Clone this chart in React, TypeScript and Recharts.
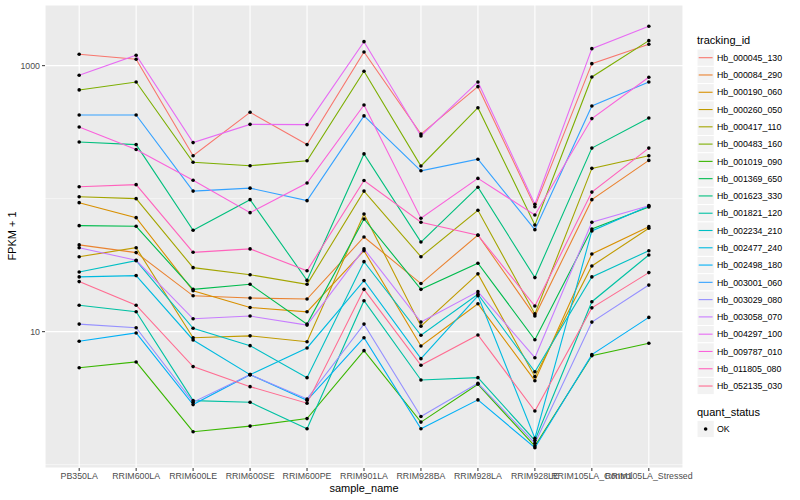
import { LineChart, Line, XAxis, YAxis, CartesianGrid, ReferenceLine } from 'recharts'

const samples = [
  'PB350LA', 'RRIM600LA', 'RRIM600LE', 'RRIM600SE', 'RRIM600PE', 'RRIM901LA',
  'RRIM928BA', 'RRIM928LA', 'RRIM928LE', 'RRIM105LA_Control', 'RRIM105LA_Stressed',
]

const trackingIds = [
  'Hb_000045_130', 'Hb_000084_290', 'Hb_000190_060', 'Hb_000260_050', 'Hb_000417_110',
  'Hb_000483_160', 'Hb_001019_090', 'Hb_001369_650', 'Hb_001623_330', 'Hb_001821_120',
  'Hb_002234_210', 'Hb_002477_240', 'Hb_002498_180', 'Hb_003001_060', 'Hb_003029_080',
  'Hb_003058_070', 'Hb_004297_100', 'Hb_009787_010', 'Hb_011805_080', 'Hb_052135_030',
]

// ggplot default hue palette, 20 levels
const colors = [
  '#F8766D', '#EA8331', '#D89000', '#C09B00', '#A3A500', '#7CAE00', '#39B600', '#00BB4E',
  '#00BF7D', '#00C1A3', '#00BFC4', '#00BAE0', '#00B0F6', '#35A2FF', '#9590FF', '#C77CFF',
  '#E76BF3', '#FA62DB', '#FF62BC', '#FF6C91',
]

// FPKM + 1, one value per sample
const hb000045_130 = [1218, 1117, 210, 446, 255, 1268, 306, 695, 87, 1035, 1448]
const hb000084_290 = [44.9, 39.3, 18.6, 17.9, 17.6, 51.5, 23.0, 53.3, 13.1, 98.3, 194]
const hb000190_060 = [93.3, 72.0, 20.3, 15.2, 14.1, 40.6, 7.8, 16.2, 4.28, 38.4, 61.6]
const hb000260_050 = [36.6, 42.8, 9.0, 9.3, 8.4, 76.7, 11.0, 27.2, 4.59, 31.2, 59.9]
const hb000417_110 = [103.5, 100, 30.3, 26.8, 22.7, 114, 36.6, 81.8, 13.6, 169, 210]
const hb000483_160 = [657, 754, 188, 177, 193, 908, 176, 483, 63.4, 822, 1542]
const hb001019_090 = [5.36, 5.92, 1.77, 1.95, 2.22, 7.2, 2.09, 4.02, 1.38, 6.6, 8.18]
const hb001369_650 = [62.7, 62.0, 20.8, 22.7, 11.4, 70.4, 20.8, 32.7, 8.7, 59.2, 86.6]
const hb001623_330 = [267, 255, 57.9, 98.3, 24.3, 217, 47.2, 122, 25.5, 240, 404]
const hb001821_120 = [15.8, 14.1, 3.03, 2.95, 1.86, 17.1, 4.33, 4.51, 1.52, 16.8, 37.7]
const hb002234_210 = [28.1, 34.2, 10.6, 7.85, 4.51, 33.6, 9.4, 19.1, 5.0, 25.8, 40.6]
const hb002477_240 = [25.8, 26.4, 8.66, 4.75, 7.54, 24.2, 6.27, 18.6, 1.58, 57.2, 88.1]
const hb002498_180 = [8.47, 9.78, 2.83, 4.75, 3.05, 9.0, 1.86, 3.07, 1.34, 6.72, 12.8]
const hb003001_060 = [426, 426, 114, 120, 96.6, 419, 162, 198, 58.5, 498, 754]
const hb003029_080 = [11.4, 10.7, 2.95, 4.75, 3.12, 11.4, 2.30, 4.09, 1.45, 11.8, 22.4]
const hb003058_070 = [42.8, 34.4, 12.5, 13.1, 11.2, 41.9, 11.8, 20.0, 6.37, 66.5, 88.6]
const hb004297_100 = [847, 1197, 264, 362, 360, 1515, 296, 754, 90.8, 1342, 1978]
const hb009787_010 = [346, 234, 137.5, 78.5, 131, 506, 71.2, 142, 75.4, 400, 818]
const hb011805_080 = [123, 127.5, 39.5, 41.9, 28.7, 137, 66.5, 53.1, 15.6, 112, 240]
const hb052135_030 = [23.8, 15.8, 5.46, 3.86, 2.9, 20.8, 5.59, 9.45, 2.53, 15.1, 27.8]

const seriesValues = [
  hb000045_130, hb000084_290, hb000190_060, hb000260_050, hb000417_110,
  hb000483_160, hb001019_090, hb001369_650, hb001623_330, hb001821_120,
  hb002234_210, hb002477_240, hb002498_180, hb003001_060, hb003029_080,
  hb003058_070, hb004297_100, hb009787_010, hb011805_080, hb052135_030,
]

const yTicks = [10, 1000]
const yMinor = [1, 100]

const rows = samples.map((s, i) => {
  const row: Record<string, number | string> = { x: i, sample: s }
  trackingIds.forEach((id, k) => {
    row[id] = seriesValues[k][i]
  })
  return row
})

const FONT = '"Liberation Sans", Arial, Helvetica, sans-serif'
const ROW = 17.28

// legend drawn by hand, ggplot style (grey95 keys, white borders)
function LegendBlock() {
  const keyX = 697
  const top = 57.7
  return (
    <svg
      width={110}
      height={500}
      style={{ position: 'absolute', left: 690, top: 0, fontFamily: FONT }}
    >
      <text x={keyX - 690} y={44} fontSize={11} fill="#000">tracking_id</text>
      {trackingIds.map((id, i) => {
        const cy = top + i * ROW
        return (
          <g key={id}>
            <rect x={keyX - 690} y={cy - ROW / 2} width={ROW} height={ROW} fill="#F2F2F2" stroke="#fff" strokeWidth={1} />
            <line x1={keyX - 690 + 1.7} x2={keyX - 690 + ROW - 1.7} y1={cy} y2={cy} stroke={colors[i]} strokeWidth={1.1} />
            <text x={27} y={cy + 3.2} fontSize={8.8} fill="#000">{id}</text>
          </g>
        )
      })}
      <text x={keyX - 690} y={416} fontSize={11} fill="#000">quant_status</text>
      <rect x={keyX - 690} y={429 - ROW / 2} width={ROW} height={ROW} fill="#F2F2F2" stroke="#fff" strokeWidth={1} />
      <circle cx={keyX - 690 + ROW / 2} cy={429} r={1.8} fill="#000" />
      <text x={27} y={432.2} fontSize={8.8} fill="#000">OK</text>
    </svg>
  )
}

export default function App() {
  return (
    <div
      style={{
        position: 'absolute', left: 0, top: 0, width: 800, height: 500,
        background: '#fff', fontFamily: FONT, overflow: 'hidden',
      }}
    >
      <LineChart width={800} height={500} data={rows} margin={{ top: 5, right: 117, bottom: 0, left: 0 }}>
        <CartesianGrid fill="#EBEBEB" stroke="#fff" strokeWidth={1.1} vertical horizontal />
        {yMinor.map((v) => (
          <ReferenceLine key={v} y={v} stroke="#fff" strokeWidth={0.55} ifOverflow="hidden" />
        ))}
        <XAxis
          dataKey="x"
          type="number"
          domain={[-0.6, 10.6]}
          ticks={samples.map((_, i) => i)}
          tickFormatter={(i: number) => samples[i] ?? ''}
          interval={0}
          height={32}
          axisLine={false}
          tickLine={{ stroke: '#333' }}
          tickSize={3}
          tickMargin={2}
          tick={{ fill: '#4D4D4D', fontSize: 8.8 }}
          allowDataOverflow
        />
        <YAxis
          scale="log"
          domain={[0.944, 2858]}
          ticks={yTicks}
          allowDataOverflow
          width={45}
          axisLine={false}
          tickLine={{ stroke: '#333' }}
          tickSize={3}
          tickMargin={2}
          tick={{ fill: '#4D4D4D', fontSize: 8.8 }}
        />
        {trackingIds.map((id, k) => (
          <Line
            key={id}
            dataKey={id}
            type="linear"
            stroke={colors[k]}
            strokeWidth={1.1}
            dot={false}
            activeDot={false}
            isAnimationActive={false}
          />
        ))}
        {trackingIds.map((id) => (
          <Line
            key={id + '_pt'}
            dataKey={id}
            type="linear"
            stroke="none"
            dot={{ r: 1.8, fill: '#000', stroke: 'none' }}
            activeDot={false}
            isAnimationActive={false}
          />
        ))}
      </LineChart>
      <div
        style={{
          position: 'absolute', left: 364 - 60, top: 481, width: 120, textAlign: 'center',
          fontSize: 11, lineHeight: '14px', color: '#000',
        }}
      >
        sample_name
      </div>
      <div
        style={{
          position: 'absolute', left: 12 - 40, top: 236 - 7, width: 80, height: 14, textAlign: 'center',
          fontSize: 11, lineHeight: '14px', color: '#000', transform: 'rotate(-90deg)',
        }}
      >
        FPKM + 1
      </div>
      <LegendBlock />
    </div>
  )
}
